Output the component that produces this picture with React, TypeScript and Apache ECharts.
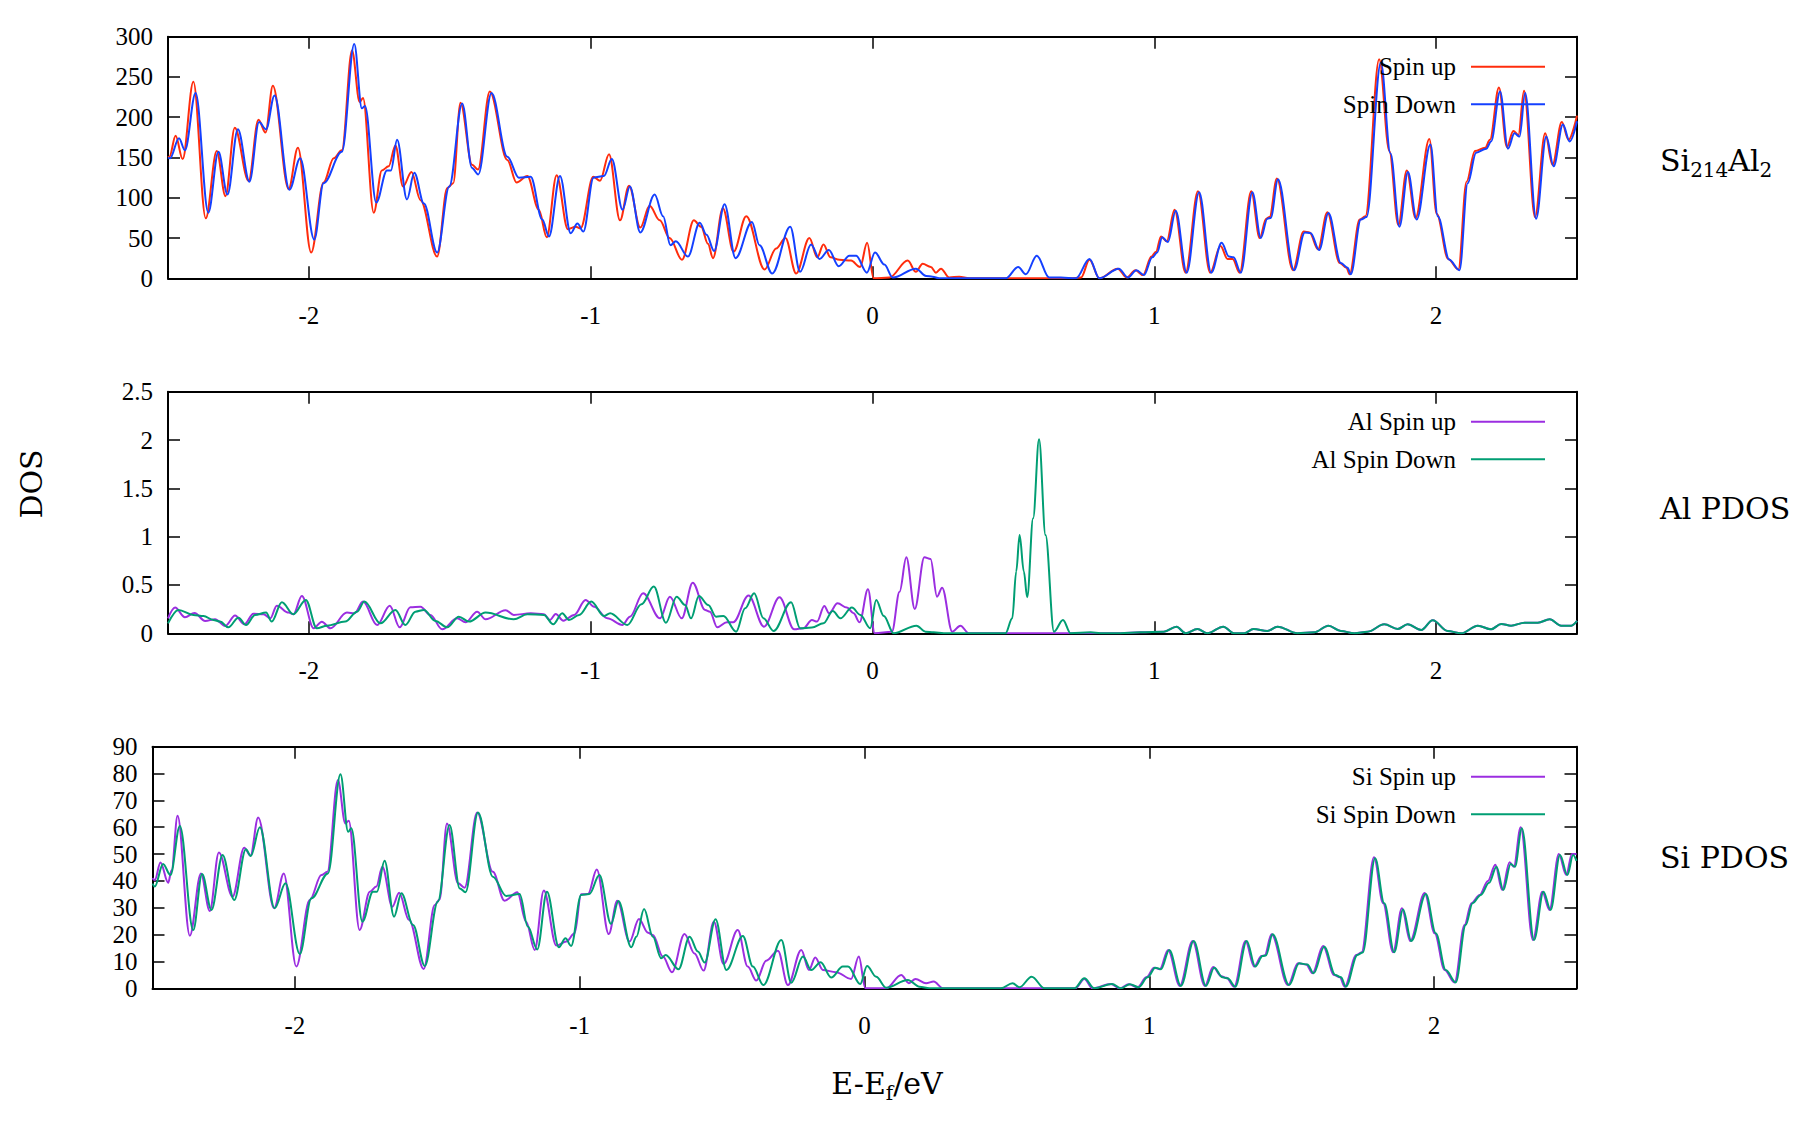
import React, { useEffect, useRef } from "react";
import * as echarts from "echarts";

// ---------- data ----------
const XTICKS = [-2, -1, 0, 1, 2];
const X_MIN = -2.5;
const X_MAX = 2.5;
const Y_MAX = [300, 2.5, 90];
const Y_STEP = [50, 0.5, 10];
const PANEL_LABELS = ["{a|Si}{b|214}{a|Al}{b|2}", "{a|Al PDOS}", "{a|Si PDOS}"];
const LEGEND_NAMES = [
  ["Spin up", "Spin Down"],
  ["Al Spin up", "Al Spin Down"],
  ["Si Spin up", "Si Spin Down"],
];

// Total DOS, spin up
const totalUp: [number, number][] = [
  [-2.5, 150], [-2.495, 151], [-2.473, 177], [-2.448, 148], [-2.41, 244], [-2.366, 74.5], [-2.327, 158],
  [-2.296, 102], [-2.263, 187], [-2.214, 121], [-2.179, 197], [-2.154, 181], [-2.128, 239], [-2.072, 111],
  [-2.039, 162], [-1.992, 32], [-1.948, 119], [-1.912, 149], [-1.883, 159], [-1.847, 283], [-1.82, 219],
  [-1.808, 224], [-1.77, 81.5], [-1.741, 134], [-1.717, 139], [-1.693, 165], [-1.666, 114], [-1.636, 132],
  [-1.604, 97], [-1.545, 27], [-1.509, 112], [-1.488, 118], [-1.462, 218], [-1.421, 141], [-1.4, 135],
  [-1.358, 232], [-1.296, 147], [-1.263, 119], [-1.225, 127], [-1.184, 85], [-1.156, 51], [-1.121, 128],
  [-1.081, 61], [-1.053, 64], [-1.036, 62], [-0.991, 126], [-0.967, 121], [-0.935, 154], [-0.896, 72],
  [-0.864, 115], [-0.824, 63], [-0.791, 90], [-0.755, 72], [-0.72, 50], [-0.676, 23], [-0.634, 72],
  [-0.608, 64], [-0.584, 43], [-0.566, 25], [-0.531, 87], [-0.493, 33], [-0.448, 77], [-0.383, 11],
  [-0.342, 37], [-0.309, 50], [-0.271, 6], [-0.224, 50], [-0.196, 26], [-0.174, 42], [-0.149, 26],
  [-0.117, 23], [-0.076, 22], [-0.044, 14], [-0.019, 44], [0.004, 0], [0.06, 1], [0.125, 22], [0.154, 8],
  [0.178, 18], [0.207, 14], [0.225, 7], [0.243, 12], [0.272, 1], [0.308, 2], [0.343, 0], [0.7, 0],
  [0.74, 1], [0.77, 23], [0.805, 0], [0.87, 12], [0.902, 1], [0.933, 10], [0.96, 4], [0.99, 27],
  [1.006, 33], [1.024, 52], [1.044, 46], [1.072, 85], [1.111, 7], [1.155, 108], [1.198, 7], [1.235, 40],
  [1.26, 24], [1.278, 24], [1.303, 7], [1.344, 108], [1.374, 50], [1.397, 74], [1.409, 76], [1.435, 124],
  [1.492, 10], [1.53, 58], [1.551, 57], [1.581, 36], [1.614, 82], [1.658, 19], [1.682, 13], [1.693, 5],
  [1.729, 73], [1.749, 77], [1.798, 272], [1.834, 158], [1.866, 66], [1.896, 134], [1.927, 75],
  [1.976, 173], [2.002, 80], [2.043, 24], [2.079, 11], [2.108, 120], [2.138, 158], [2.174, 162],
  [2.191, 172], [2.223, 237], [2.251, 163], [2.274, 183], [2.292, 178], [2.312, 233], [2.351, 76],
  [2.387, 180], [2.413, 141], [2.446, 194], [2.47, 172], [2.5, 202],
];

// Total DOS, spin down
const totalDown: [number, number][] = [
  [-2.5, 150], [-2.493, 149], [-2.461, 174], [-2.44, 159], [-2.402, 230], [-2.357, 81.5], [-2.321, 157],
  [-2.289, 104], [-2.252, 185], [-2.211, 120], [-2.177, 194], [-2.152, 185], [-2.122, 227], [-2.069, 110],
  [-2.031, 149], [-1.981, 48], [-1.948, 118], [-1.883, 157], [-1.839, 291], [-1.812, 211], [-1.801, 214],
  [-1.761, 94], [-1.723, 134], [-1.709, 134], [-1.687, 172], [-1.652, 98], [-1.626, 131], [-1.592, 93],
  [-1.545, 32], [-1.502, 114], [-1.456, 217], [-1.421, 137], [-1.399, 129], [-1.352, 230], [-1.296, 151],
  [-1.255, 125], [-1.213, 126], [-1.172, 73], [-1.148, 52], [-1.109, 127], [-1.071, 56], [-1.047, 68],
  [-1.026, 58], [-0.99, 125], [-0.953, 127], [-0.925, 148], [-0.887, 85], [-0.861, 114], [-0.824, 57],
  [-0.773, 104], [-0.743, 77], [-0.717, 41], [-0.698, 46], [-0.655, 27], [-0.613, 69], [-0.589, 54],
  [-0.562, 34], [-0.525, 92], [-0.486, 25], [-0.428, 70], [-0.401, 41], [-0.356, 6], [-0.292, 64],
  [-0.257, 8], [-0.218, 42], [-0.188, 24], [-0.155, 35], [-0.12, 15], [-0.082, 28], [-0.058, 28],
  [-0.02, 7], [0.009, 32], [0.042, 17], [0.072, 1], [0.154, 12], [0.19, 3], [0.213, 2], [0.237, 0],
  [0.473, 0], [0.517, 14], [0.544, 5], [0.583, 28], [0.627, 1], [0.668, 1], [0.722, 0], [0.77, 24],
  [0.805, 0], [0.874, 12], [0.906, 1], [0.937, 10], [0.963, 4], [0.993, 26], [1.01, 32], [1.028, 51],
  [1.048, 45], [1.076, 84], [1.115, 7], [1.159, 107], [1.202, 7], [1.239, 44], [1.265, 27], [1.281, 26],
  [1.307, 7], [1.348, 107], [1.378, 50], [1.401, 74], [1.413, 75], [1.439, 123], [1.496, 10], [1.534, 57],
  [1.555, 56], [1.585, 35], [1.618, 81], [1.662, 19], [1.686, 13], [1.697, 5], [1.733, 73], [1.753, 76],
  [1.804, 268], [1.838, 155], [1.87, 64], [1.9, 132], [1.931, 73], [1.98, 166], [2.006, 77], [2.047, 23],
  [2.083, 10], [2.112, 118], [2.142, 156], [2.178, 161], [2.195, 170], [2.227, 232], [2.255, 161],
  [2.278, 180], [2.296, 176], [2.316, 230], [2.355, 74], [2.391, 176], [2.417, 139], [2.45, 191],
  [2.474, 170], [2.5, 195],
];

// Al PDOS
const alUp: [number, number][] = [
  [-2.5, 0.155], [-2.475, 0.266], [-2.44, 0.166], [-2.406, 0.21], [-2.368, 0.128], [-2.333, 0.145],
  [-2.297, 0.076], [-2.262, 0.183], [-2.229, 0.093], [-2.197, 0.203], [-2.161, 0.197], [-2.137, 0.155],
  [-2.114, 0.286], [-2.072, 0.214], [-2.055, 0.197], [-2.025, 0.386], [-1.983, 0.052], [-1.954, 0.12],
  [-1.924, 0.052], [-1.865, 0.214], [-1.838, 0.207], [-1.808, 0.328], [-1.758, 0.086], [-1.713, 0.286],
  [-1.678, 0.062], [-1.64, 0.269], [-1.604, 0.276], [-1.569, 0.19], [-1.527, 0.041], [-1.474, 0.155],
  [-1.444, 0.114], [-1.403, 0.224], [-1.373, 0.145], [-1.302, 0.238], [-1.273, 0.19], [-1.213, 0.207],
  [-1.166, 0.197], [-1.145, 0.138], [-1.124, 0.2], [-1.097, 0.131], [-1.059, 0.19], [-1.018, 0.345],
  [-0.988, 0.276], [-0.941, 0.155], [-0.887, 0.086], [-0.861, 0.172], [-0.814, 0.414], [-0.754, 0.155],
  [-0.719, 0.379], [-0.677, 0.155], [-0.638, 0.524], [-0.594, 0.241], [-0.577, 0.224], [-0.551, 0.062],
  [-0.517, 0.114], [-0.494, 0.114], [-0.44, 0.39], [-0.385, 0.069], [-0.33, 0.372], [-0.278, 0.041],
  [-0.245, 0.052], [-0.215, 0.138], [-0.197, 0.121], [-0.171, 0.283], [-0.154, 0.207], [-0.124, 0.31],
  [-0.091, 0.266], [-0.067, 0.207], [-0.046, 0.114], [-0.016, 0.455], [0.008, 0], [0.069, 0.017],
  [0.096, 0.43], [0.12, 0.786], [0.15, 0.252], [0.184, 0.786], [0.206, 0.769], [0.229, 0.379],
  [0.247, 0.472], [0.283, 0.017], [0.312, 0.079], [0.342, 0], [0.8, 0], [0.88, 0], [0.951, 0.01],
  [1.034, 0.017], [1.079, 0.069], [1.111, 0], [1.153, 0.045], [1.188, 0], [1.245, 0.069], [1.283, 0],
  [1.319, 0], [1.352, 0.045], [1.401, 0.024], [1.437, 0.069], [1.508, 0], [1.567, 0.01], [1.618, 0.079],
  [1.662, 0.024], [1.71, 0], [1.757, 0.017], [1.816, 0.093], [1.864, 0.045], [1.899, 0.093],
  [1.947, 0.034], [1.988, 0.134], [2.041, 0.024], [2.089, 0], [2.148, 0.079], [2.195, 0.041],
  [2.231, 0.097], [2.266, 0.079], [2.314, 0.11], [2.361, 0.11], [2.403, 0.145], [2.444, 0.079],
  [2.48, 0.079], [2.5, 0.128],
];

const alDown: [number, number][] = [
  [-2.5, 0.103], [-2.463, 0.241], [-2.41, 0.19], [-2.374, 0.179], [-2.339, 0.138], [-2.315, 0.121],
  [-2.286, 0.062], [-2.25, 0.162], [-2.223, 0.086], [-2.191, 0.19], [-2.152, 0.214], [-2.132, 0.121],
  [-2.096, 0.321], [-2.055, 0.197], [-2.011, 0.345], [-1.972, 0.052], [-1.936, 0.079], [-1.871, 0.121],
  [-1.829, 0.224], [-1.803, 0.328], [-1.746, 0.103], [-1.693, 0.241], [-1.658, 0.086], [-1.622, 0.224],
  [-1.592, 0.241], [-1.551, 0.128], [-1.509, 0.062], [-1.468, 0.172], [-1.432, 0.121], [-1.373, 0.214],
  [-1.273, 0.145], [-1.225, 0.197], [-1.166, 0.19], [-1.133, 0.093], [-1.101, 0.207], [-1.077, 0.138],
  [-1.041, 0.19], [-0.998, 0.328], [-0.953, 0.179], [-0.931, 0.207], [-0.87, 0.086], [-0.82, 0.3],
  [-0.776, 0.483], [-0.733, 0.11], [-0.695, 0.379], [-0.665, 0.293], [-0.644, 0.155], [-0.616, 0.386],
  [-0.583, 0.293], [-0.555, 0.172], [-0.529, 0.179], [-0.484, 0.017], [-0.452, 0.259], [-0.42, 0.414],
  [-0.387, 0.155], [-0.351, 0.024], [-0.289, 0.321], [-0.257, 0.052], [-0.215, 0.059], [-0.174, 0.103],
  [-0.141, 0.231], [-0.114, 0.155], [-0.073, 0.266], [-0.043, 0.19], [-0.008, 0.052], [0.013, 0.345],
  [0.04, 0.179], [0.075, 0], [0.156, 0.079], [0.188, 0.017], [0.217, 0.01], [0.253, 0], [0.472, 0],
  [0.496, 0.155], [0.51, 0.64], [0.522, 1.017], [0.537, 0.64], [0.549, 0.372], [0.57, 1.19],
  [0.591, 2.007], [0.614, 1.017], [0.644, 0.017], [0.676, 0.138], [0.703, 0], [0.774, 0.01], [0.809, 0],
  [0.88, 0], [0.951, 0.01], [1.034, 0.017], [1.079, 0.069], [1.111, 0], [1.153, 0.045], [1.188, 0],
  [1.245, 0.069], [1.283, 0], [1.319, 0], [1.352, 0.045], [1.401, 0.024], [1.437, 0.069], [1.508, 0],
  [1.567, 0.01], [1.618, 0.079], [1.662, 0.024], [1.71, 0], [1.757, 0.017], [1.816, 0.093],
  [1.864, 0.045], [1.899, 0.093], [1.947, 0.034], [1.988, 0.134], [2.041, 0.024], [2.089, 0],
  [2.148, 0.079], [2.195, 0.041], [2.231, 0.097], [2.266, 0.079], [2.314, 0.11], [2.361, 0.11],
  [2.403, 0.145], [2.444, 0.079], [2.48, 0.079], [2.5, 0.128],
];

// Si PDOS
const siUp: [number, number][] = [
  [-2.5, 41], [-2.492, 40.3], [-2.472, 46.9], [-2.445, 39.3], [-2.433, 44], [-2.412, 64.3], [-2.369, 19.6],
  [-2.33, 42.8], [-2.299, 28.8], [-2.267, 50.6], [-2.219, 34.1], [-2.178, 52.4], [-2.156, 49.4],
  [-2.129, 63.6], [-2.073, 29.8], [-2.039, 42.8], [-1.995, 8.1], [-1.948, 32.9], [-1.907, 42.2],
  [-1.886, 43.4], [-1.849, 77.6], [-1.823, 61.4], [-1.811, 62.4], [-1.773, 21.7], [-1.737, 36],
  [-1.714, 37.9], [-1.693, 45.3], [-1.658, 30.4], [-1.634, 35.6], [-1.599, 25.4], [-1.548, 7.2],
  [-1.509, 31], [-1.492, 33.1], [-1.466, 61.4], [-1.427, 39.1], [-1.404, 37.5], [-1.36, 65.5],
  [-1.305, 43.4], [-1.264, 32.6], [-1.219, 35.8], [-1.188, 24.8], [-1.158, 14.3], [-1.126, 36.4],
  [-1.082, 15.9], [-1.047, 17.4], [-1.018, 20.5], [-0.995, 35], [-0.971, 35.1], [-0.94, 44.3],
  [-0.898, 20.2], [-0.868, 32.6], [-0.825, 17.4], [-0.792, 25.8], [-0.76, 20.7], [-0.743, 19.9],
  [-0.708, 11.8], [-0.676, 6], [-0.632, 20.2], [-0.597, 13], [-0.565, 6.6], [-0.529, 24.8], [-0.495, 9.1],
  [-0.445, 21.7], [-0.41, 8.1], [-0.38, 2.9], [-0.345, 10.3], [-0.304, 14], [-0.269, 1.2], [-0.222, 14.3],
  [-0.195, 6.8], [-0.173, 11.5], [-0.146, 6.8], [-0.1, 6], [-0.047, 3.5], [-0.02, 11.8], [0.003, 0],
  [0.076, 0], [0.129, 5], [0.156, 1.9], [0.179, 3.5], [0.216, 1.9], [0.243, 2.5], [0.275, 0], [0.74, 0],
  [0.772, 3.5], [0.8, 0], [0.865, 1.6], [0.896, 0], [0.928, 1.5], [0.959, 0.4], [0.99, 4.1], [1.017, 7.7],
  [1.037, 7.1], [1.066, 14.3], [1.107, 0.9], [1.152, 17.6], [1.195, 0.9], [1.224, 7.9], [1.253, 4.5],
  [1.271, 3.9], [1.298, 0.6], [1.338, 17.6], [1.368, 8.1], [1.394, 12], [1.405, 12.2], [1.429, 20.1],
  [1.487, 1.2], [1.522, 9.3], [1.551, 8.9], [1.573, 5.6], [1.61, 15.8], [1.649, 5], [1.669, 4.1],
  [1.686, 0.6], [1.727, 12.4], [1.745, 13.3], [1.789, 48.8], [1.821, 31.7], [1.856, 13.4], [1.887, 29.8],
  [1.916, 17.6], [1.967, 35.5], [2.002, 20.5], [2.037, 6.8], [2.072, 2.2], [2.107, 23.6], [2.131, 31.7],
  [2.16, 34.8], [2.189, 40], [2.215, 46], [2.239, 36.6], [2.265, 47], [2.28, 45.3], [2.304, 60],
  [2.347, 18], [2.38, 36], [2.405, 29.2], [2.438, 50], [2.464, 42.2], [2.484, 50], [2.5, 50],
];

const siDown: [number, number][] = [
  [-2.5, 39], [-2.492, 37.9], [-2.463, 46.3], [-2.437, 42.2], [-2.404, 60.5], [-2.357, 21.7], [-2.326, 42.6],
  [-2.293, 29.2], [-2.254, 49.7], [-2.213, 32.9], [-2.172, 51.8], [-2.155, 49.3], [-2.123, 60],
  [-2.071, 29.8], [-2.033, 39.1], [-1.983, 12.8], [-1.942, 33.5], [-1.884, 42.8], [-1.84, 79.7],
  [-1.813, 58.3], [-1.802, 59.6], [-1.763, 24.8], [-1.726, 36], [-1.712, 36], [-1.685, 47.5],
  [-1.652, 26.7], [-1.626, 35.4], [-1.585, 23.6], [-1.544, 8.3], [-1.498, 32.3], [-1.457, 60.8],
  [-1.421, 37.2], [-1.401, 35.8], [-1.357, 65.5], [-1.305, 41.6], [-1.258, 34.4], [-1.211, 35.1],
  [-1.182, 23], [-1.149, 14.5], [-1.115, 36], [-1.073, 15.3], [-1.05, 18.6], [-1.03, 15.8], [-0.995, 34.8],
  [-0.966, 35.1], [-0.931, 42.2], [-0.89, 24], [-0.864, 32.5], [-0.819, 15.3], [-0.801, 19.2],
  [-0.774, 29.5], [-0.743, 19.2], [-0.714, 11.2], [-0.698, 12.4], [-0.653, 7.1], [-0.614, 19.2],
  [-0.585, 13.7], [-0.561, 9.6], [-0.523, 25.7], [-0.485, 6.8], [-0.427, 19.5], [-0.392, 8.1],
  [-0.355, 1.2], [-0.292, 18], [-0.257, 2.1], [-0.216, 11.8], [-0.187, 6.8], [-0.154, 9.7], [-0.117, 4],
  [-0.076, 8.1], [-0.058, 8.1], [-0.015, 1.6], [0.009, 8.3], [0.041, 4.3], [0.076, 0.2], [0.152, 3.1],
  [0.193, 0.6], [0.228, 0], [0.479, 0], [0.52, 1.9], [0.544, 0.4], [0.587, 4.3], [0.632, 0], [0.737, 0],
  [0.772, 3.7], [0.807, 0], [0.869, 1.6], [0.9, 0], [0.932, 1.5], [0.963, 0.4], [0.994, 4.1], [1.021, 7.7],
  [1.041, 7.1], [1.07, 14.3], [1.111, 0.9], [1.156, 17.6], [1.199, 0.9], [1.228, 7.7], [1.257, 4.1],
  [1.275, 3.7], [1.302, 0.6], [1.342, 17.6], [1.372, 8.1], [1.398, 12], [1.409, 12.2], [1.433, 20.1],
  [1.491, 1.2], [1.526, 9.3], [1.555, 8.9], [1.577, 5.6], [1.614, 15.5], [1.653, 5], [1.673, 4.1],
  [1.69, 0.6], [1.731, 12.4], [1.749, 13.3], [1.793, 48.4], [1.825, 31.7], [1.86, 13.4], [1.891, 29.4],
  [1.92, 17.6], [1.971, 35.1], [2.006, 20.5], [2.041, 6.8], [2.076, 2.2], [2.111, 23.6], [2.135, 31.7],
  [2.164, 34.8], [2.193, 39.3], [2.219, 45.3], [2.243, 36.6], [2.269, 46.3], [2.284, 45.3], [2.308, 59.6],
  [2.351, 18], [2.384, 36], [2.409, 29.2], [2.442, 49.7], [2.468, 42.2], [2.488, 49.7], [2.5, 47.5],
];

const SERIES_DATA = [
  [totalUp, totalDown],
  [alUp, alDown],
  [siUp, siDown],
];

// ---------- styling ----------
const COLORS = [
  ["#ff2c0c", "#1440ff"],
  ["#9b2ee0", "#009e73"],
  ["#9b2ee0", "#009e73"],
];
const W = 1819;
const H = 1121;
const TICK_FONT = "Liberation Serif";
const LABEL_FONT = "DejaVu Serif";

const GRIDS = [
  { left: 168, top: 36.7, width: 1409, height: 241.6 },
  { left: 168, top: 391.7, width: 1409, height: 241.6 },
  { left: 152.5, top: 746.7, width: 1424, height: 241.6 },
];

const RICH = {
  a: { fontSize: 30, fontFamily: LABEL_FONT, color: "#000" },
  b: { fontSize: 20, fontFamily: LABEL_FONT, color: "#000", padding: [19, 0, 0, 0] },
};

export default function App() {
  const ref = useRef<HTMLDivElement | null>(null);

  useEffect(() => {
    if (!ref.current) return;
    const chart = echarts.init(ref.current, undefined, { renderer: "svg", width: W, height: H });

    const line = { show: true, onZero: false, lineStyle: { color: "#000", width: 2 } };
    const tick = { show: true, inside: true, length: 12, lineStyle: { color: "#000", width: 1.5 } };
    const tickText = { color: "#000", fontSize: 25, fontFamily: TICK_FONT, fontWeight: "normal" };

    const xAxis: any[] = [];
    const yAxis: any[] = [];
    const series: any[] = [];
    const legend: any[] = [];

    GRIDS.forEach((g, i) => {
      xAxis.push({
        type: "value", gridIndex: i, position: "bottom", min: X_MIN, max: X_MAX,
        axisLine: line,
        axisTick: { ...tick, customValues: XTICKS },
        axisLabel: { show: true, customValues: XTICKS, margin: 25, ...tickText },
        splitLine: { show: false },
      });
      xAxis.push({
        type: "value", gridIndex: i, position: "top", min: X_MIN, max: X_MAX,
        axisLine: line,
        axisTick: { ...tick, customValues: XTICKS },
        axisLabel: { show: false },
        splitLine: { show: false },
      });
      yAxis.push({
        type: "value", gridIndex: i, position: "left", min: 0, max: Y_MAX[i], interval: Y_STEP[i],
        axisLine: line, axisTick: tick,
        axisLabel: { show: true, margin: 15, ...tickText },
        splitLine: { show: false },
      });
      yAxis.push({
        type: "value", gridIndex: i, position: "right", min: 0, max: Y_MAX[i], interval: Y_STEP[i],
        axisLine: line, axisTick: tick,
        axisLabel: { show: false },
        splitLine: { show: false },
      });

      SERIES_DATA[i].forEach((d, k) => {
        const name = LEGEND_NAMES[i][k];
        series.push({
          type: "line", name, xAxisIndex: 2 * i, yAxisIndex: 2 * i, data: d,
          showSymbol: false, symbol: "none", smooth: 0.35, smoothMonotone: "x",
          lineStyle: { width: 2, color: COLORS[i][k] }, itemStyle: { color: COLORS[i][k] },
          silent: true, z: 2 + k,
        });
        const centerY = g.top + 30 + k * 37.5;
        legend.push({
          data: [name], orient: "vertical", right: 269, top: centerY - 12.5 - 5,
          align: "right", itemWidth: 74, itemHeight: 2, icon: "rect",
          selectedMode: false,
          textStyle: { fontSize: 25, fontFamily: TICK_FONT, color: "#000", padding: [0, 10, 0, 0] },
        });
      });
    });

    const labelY = [160, 508, 857];
    const graphic: any[] = [
      {
        type: "text", x: 31, y: 484, rotation: Math.PI / 2,
        style: { text: "DOS", fontSize: 30, fontFamily: LABEL_FONT, fill: "#000", align: "center", verticalAlign: "middle" },
      },
      {
        type: "text", x: 887, y: 1083,
        style: {
          text: "{a|E-E}{b|f}{a|/eV}", fill: "#000", align: "center", verticalAlign: "middle",
          rich: RICH,
        },
      },
    ];

    PANEL_LABELS.forEach((t, i) => {
      graphic.push({
        type: "text", x: 1660, y: labelY[i],
        style: {
          text: t, fill: "#000", align: "left", verticalAlign: "middle",
          rich: RICH,
        },
      });
    });

    chart.setOption({
      animation: false,
      backgroundColor: "#fff",
      textStyle: { fontFamily: TICK_FONT },
      grid: GRIDS.map((g) => ({ ...g, containLabel: false })),
      xAxis, yAxis, series, legend, graphic,
    });

    return () => chart.dispose();
  }, []);

  return (
    <div
      ref={ref}
      style={{ position: "absolute", left: 0, top: 0, width: W, height: H, background: "#fff" }}
    />
  );
}
